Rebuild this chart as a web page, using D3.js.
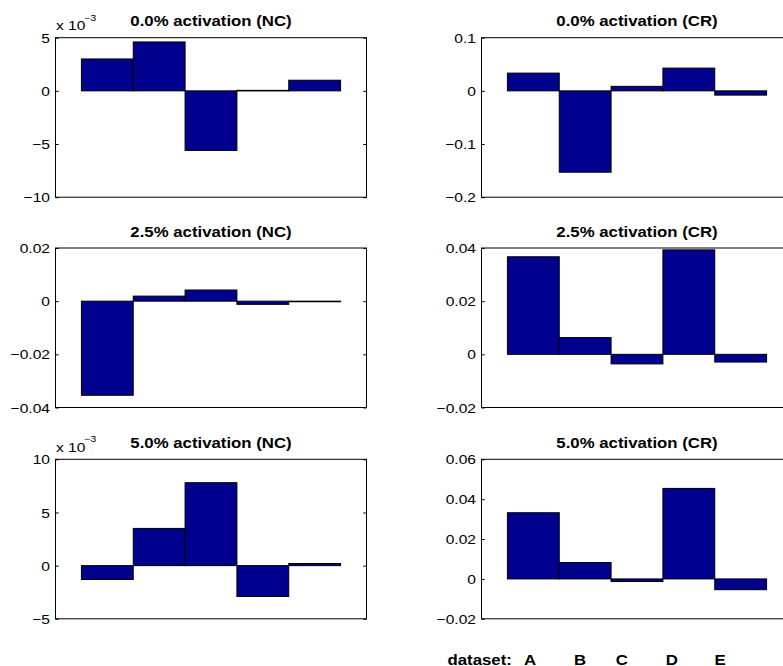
<!DOCTYPE html>
<html>
<head>
<meta charset="utf-8">
<script src="https://cdn.jsdelivr.net/npm/d3@7"></script>
<style>
  html, body { margin: 0; padding: 0; background: #fff; overflow: hidden; }
  svg { display: block; }
  text { font-family: Arial, "Liberation Sans", Helvetica, sans-serif; fill: #000; }
</style>
</head>
<body>
<svg id="chart" width="783" height="666"></svg>
<script>
// ---- data ----
const categories = ["A", "B", "C", "D", "E"];

const titles = [
  "0.0% activation (NC)", "0.0% activation (CR)",
  "2.5% activation (NC)", "2.5% activation (CR)",
  "5.0% activation (NC)", "5.0% activation (CR)"
];

const nc00 = [0.0030, 0.0046, -0.0056, 0.00005, 0.0010];
const cr00 = [0.0334, -0.153, 0.0085, 0.0428, -0.0080];
const nc25 = [-0.0354, 0.0019, 0.0042, -0.0012, -0.0002];
const cr25 = [0.0367, 0.0063, -0.0036, 0.0393, -0.0029];
const nc50 = [-0.0013, 0.0035, 0.0078, -0.0029, 0.0002];
const cr50 = [0.0332, 0.0082, -0.0013, 0.0454, -0.0054];

const yDomains = [
  [-0.01, 0.005], [-0.2, 0.1],
  [-0.04, 0.02], [-0.02, 0.04],
  [-0.005, 0.01], [-0.02, 0.06]
];

const tickValues = [
  [-0.01, -0.005, 0, 0.005], [-0.2, -0.1, 0, 0.1],
  [-0.04, -0.02, 0, 0.02], [-0.02, 0, 0.02, 0.04],
  [-0.005, 0, 0.005, 0.01], [-0.02, 0, 0.02, 0.04, 0.06]
];

const tickLabels = [
  ["\u221210", "\u22125", "0", "5"], ["\u22120.2", "\u22120.1", "0", "0.1"],
  ["\u22120.04", "\u22120.02", "0", "0.02"], ["\u22120.02", "0", "0.02", "0.04"],
  ["\u22125", "0", "5", "10"], ["\u22120.02", "0", "0.02", "0.04", "0.06"]
];

// exponent shown above the axis (null when none)
const exponents = [-3, null, null, null, -3, null];

const series = [nc00, cr00, nc25, cr25, nc50, cr50];

// ---- layout ----
const colX = [55.5, 481.5];
const rowY = [37.7, 248, 459.3];
const panelW = 311;
const panelH = 159.5;
const stretch = 1.2;          // horizontal text stretch
const barFill = "#00008f";
const datasetLabelX = [530, 580, 621.7, 671.7, 720];

const svg = d3.select("#chart");

function stretchedText(sel, x, y, str, anchor, size, weight) {
  return sel.append("text")
    .attr("transform", `translate(${x},${y}) scale(${stretch},1)`)
    .attr("text-anchor", anchor)
    .style("font-size", size + "px")
    .style("font-weight", weight || "normal")
    .text(str);
}

series.forEach((vals, i) => {
  const col = i % 2, row = Math.floor(i / 2);
  const g = svg.append("g").attr("transform", `translate(${colX[col]},${rowY[row]})`);

  const x = d3.scaleLinear().domain([0, categories.length + 1]).range([0, panelW]);
  const y = d3.scaleLinear().domain(yDomains[i]).range([panelH, 0]);

  // bars (width 1 around integer positions 1..5)
  g.selectAll("rect.bar")
    .data(vals)
    .join("rect")
    .attr("class", "bar")
    .attr("x", (d, k) => x(k + 0.5))
    .attr("width", x(1) - x(0))
    .attr("y", d => y(Math.max(0, d)))
    .attr("height", d => Math.max(0.6, Math.abs(y(d) - y(0))))
    .attr("fill", barFill)
    .attr("stroke", "#000")
    .attr("stroke-width", 1);

  // left axis with inward ticks
  const labels = tickLabels[i];
  const left = d3.axisLeft(y)
    .tickValues(tickValues[i])
    .tickSizeInner(-3.2)
    .tickSizeOuter(0)
    .tickFormat((d, k) => labels[k]);
  const ga = g.append("g").call(left);
  ga.select(".domain").remove();
  ga.selectAll(".tick line").attr("stroke", "#000");
  ga.selectAll(".tick text").remove();
  ga.selectAll(".tick").each(function (d, k) {
    stretchedText(d3.select(this), -5.5, 4.6, labels[k], "end", 13);
  });

  // right axis with inward ticks
  const right = d3.axisRight(y)
    .tickValues(tickValues[i])
    .tickSizeInner(-3.2)
    .tickSizeOuter(0)
    .tickFormat("");
  const gr = g.append("g").attr("transform", `translate(${panelW},0)`).call(right);
  gr.select(".domain").remove();
  gr.selectAll(".tick line").attr("stroke", "#000");

  // axes box
  g.append("rect")
    .attr("x", 0).attr("y", 0)
    .attr("width", panelW).attr("height", panelH)
    .attr("fill", "none")
    .attr("stroke", "#000")
    .attr("stroke-width", 1);

  // title
  stretchedText(g, panelW / 2, -11.5, titles[i], "middle", 14, "bold");

  // exponent marker
  if (exponents[i] !== null) {
    stretchedText(g, 0.5, -7.5, "x 10", "start", 13);
    stretchedText(g, 28.5, -17, "\u2212" + Math.abs(exponents[i]), "start", 9);
  }
});

// dataset legend under the last panel
const lg = svg.append("g");
stretchedText(lg, 447.5, 664.5, "dataset:", "start", 14, "bold");
categories.forEach((c, k) => {
  stretchedText(lg, datasetLabelX[k], 664.5, c, "middle", 14, "bold");
});
</script>
</body>
</html>
